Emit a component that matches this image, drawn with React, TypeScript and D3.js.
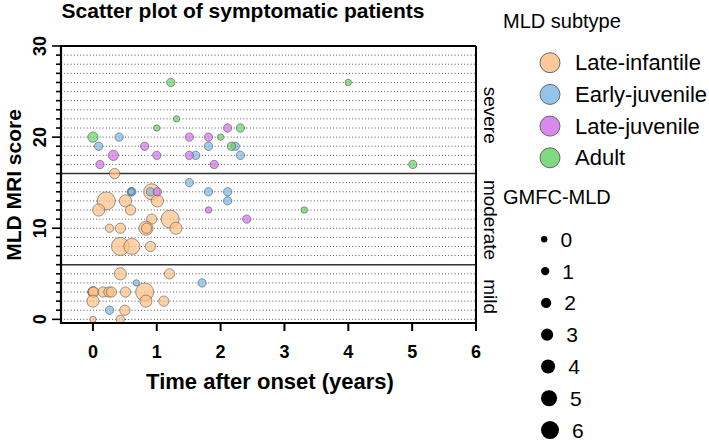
import React from "react";
import * as d3 from "d3";

// [time after onset, MRI score, GMFC-MLD]
const lateInfantile: number[][] = [
  [0.34, 16, 2],
  [0.92, 14, 5],
  [0.21, 13, 6], [0.51, 13, 3], [1.01, 13, 3],
  [0.09, 12, 3], [0.59, 12, 2],
  [0.92, 11, 2], [1.21, 11, 6],
  [0.26, 10, 1], [0.43, 10, 2], [0.83, 10, 4], [0.84, 10, 2], [1.3, 10, 3],
  [0.43, 8, 6], [0.61, 8, 5], [0.9, 8, 2],
  [0.43, 5, 3], [1.2, 5, 2],
  [0.0, 3, 2], [0.0, 3, 2], [0.01, 3, 2], [0.16, 3, 2], [0.25, 3, 2], [0.29, 3, 2], [0.51, 3, 2], [0.81, 3, 6],
  [0.0, 2, 3], [0.83, 2, 3], [1.11, 2, 2],
  [0.5, 1, 2],
  [0.0, 0, 0], [0.43, 0, 1],
];

const earlyJuvenile: number[][] = [
  [0.41, 20, 1],
  [0.09, 19, 1], [1.81, 19, 1], [2.23, 19, 1],
  [1.61, 18, 1], [2.31, 18, 1],
  [1.51, 15, 1],
  [0.6, 14, 1], [0.61, 14, 1], [0.6, 14, 0], [0.9, 14, 1], [1.81, 14, 1], [2.11, 14, 1],
  [2.11, 13, 1],
  [0.68, 4, 0], [1.71, 4, 1],
  [0.26, 1, 1],
];

const lateJuvenile: number[][] = [
  [2.11, 21, 1],
  [1.51, 20, 1], [1.81, 20, 1],
  [0.81, 19, 1],
  [0.32, 18, 2], [1.0, 18, 1], [1.51, 18, 1],
  [0.11, 17, 1], [1.9, 17, 1],
  [1.01, 14, 1],
  [1.81, 12, 0],
  [2.41, 11, 1],
];

const adult: number[][] = [
  [1.22, 26, 1], [4.0, 26, 0],
  [1.31, 22, 0],
  [1.0, 21, 0], [2.31, 21, 1],
  [0.0, 20, 2], [2.0, 20, 0],
  [2.17, 19, 1],
  [5.01, 17, 1],
  [3.31, 12, 0],
];

const subtypes = ["Late-infantile", "Early-juvenile", "Late-juvenile", "Adult"];
const colors = ["#FFC085", "#80BAE6", "#D274EA", "#68D468"];
const seriesList = [lateInfantile, earlyJuvenile, lateJuvenile, adult];
const gmfcLevels = [0, 1, 2, 3, 4, 5, 6];
const xTicks = [0, 1, 2, 3, 4, 5, 6];
const yLabels = [0, 10, 20, 30];
const bands = [
  { name: "severe", at: 22.4 },
  { name: "moderate", at: 10.9 },
  { name: "mild", at: 2.5 },
];
const bandLines = [6, 16];

export default function App() {
  const W = 709, H = 441;
  const left = 61, right = 476, top = 46, bottom = 323;
  const x = d3.scaleLinear().domain([-0.5, 6]).range([left, right]);
  const y = d3.scaleLinear().domain([-0.4, 30]).range([bottom, top]);
  const r = d3.scaleLinear().domain([0, 6]).range([3.2, 9]);
  const font = "'Liberation Sans', Arial, sans-serif";

  const gridVals = d3.range(0, 30).filter(v => !bandLines.includes(v));

  return (
    <svg width={W} height={H} style={{ position: "absolute", left: 0, top: 0, fontFamily: font }}>
      <rect width={W} height={H} fill="#fff" />
      <text x={243} y={18} textAnchor="middle" fontSize={21} fontWeight="bold">
        Scatter plot of symptomatic patients
      </text>

      {/* dotted grid */}
      {gridVals.map(v => (
        <line key={"g" + v} x1={left} x2={right} y1={y(v)} y2={y(v)}
          stroke="#555" strokeWidth={1} strokeDasharray="1,2.2" />
      ))}
      {bandLines.map(v => (
        <line key={"b" + v} x1={left} x2={right} y1={y(v)} y2={y(v)} stroke="#333" strokeWidth={1.5} />
      ))}

      {/* points */}
      {seriesList.map((s, i) => (
        <g key={subtypes[i]}>
          {s.map((d, j) => (
            <circle key={j} cx={x(d[0])} cy={y(d[1])} r={r(d[2])}
              fill={colors[i]} fillOpacity={0.72} stroke="#555" strokeOpacity={0.75} strokeWidth={0.8} />
          ))}
        </g>
      ))}

      {/* frame */}
      <line x1={left} x2={right} y1={top} y2={top} stroke="#000" strokeWidth={2.2} />
      <line x1={right} x2={right} y1={top} y2={bottom} stroke="#000" strokeWidth={2} />
      <line x1={left} x2={left} y1={top - 1} y2={bottom + 1} stroke="#000" strokeWidth={2.2} />
      <line x1={left - 1} x2={right + 1} y1={bottom} y2={bottom} stroke="#000" strokeWidth={2.2} />

      {/* y ticks */}
      {d3.range(0, 31).map(v => (
        <line key={"yt" + v} x1={v % 10 === 0 ? left - 9 : left - 5} x2={left} y1={y(v)} y2={y(v)}
          stroke="#000" strokeWidth={1.6} />
      ))}
      {yLabels.map(v => (
        <text key={"yl" + v} transform={`translate(46,${y(v)}) rotate(-90)`} textAnchor="middle"
          fontSize={18} fontWeight="bold">{v}</text>
      ))}
      <text transform={`translate(21,${185}) rotate(-90)`} textAnchor="middle" fontSize={21} fontWeight="bold">
        MLD MRI score
      </text>

      {/* x ticks */}
      {xTicks.map(v => (
        <g key={"xt" + v}>
          <line x1={x(v)} x2={x(v)} y1={bottom} y2={bottom + 8} stroke="#000" strokeWidth={2} />
          <text x={x(v)} y={358} textAnchor="middle" fontSize={18} fontWeight="bold">{v}</text>
        </g>
      ))}
      <text x={270} y={389} textAnchor="middle" fontSize={22} fontWeight="bold">
        Time after onset (years)
      </text>

      {/* band names */}
      {bands.map(b => (
        <text key={b.name} transform={`translate(484,${y(b.at)}) rotate(90)`} textAnchor="middle" fontSize={19}>
          {b.name}
        </text>
      ))}

      {/* legend: subtype */}
      <text x={503} y={28} fontSize={20}>MLD subtype</text>
      {subtypes.map((s, i) => (
        <g key={"l" + s} transform={`translate(550,${62.7 + i * 31.7})`}>
          <circle r={10} fill={colors[i]} fillOpacity={0.85} stroke="#666" strokeWidth={1} />
          <text x={25} y={7.5} fontSize={22}>{s}</text>
        </g>
      ))}

      {/* legend: GMFC */}
      <text x={503} y={204} fontSize={20}>GMFC-MLD</text>
      {gmfcLevels.map((g, i) => (
        <g key={"s" + g} transform={`translate(0,${239.3 + i * 31.8})`}>
          <circle cx={541 + r(g)} cy={0} r={r(g)} fill="#000" />
          <text x={541 + 2 * r(g) + 13} y={7.5} fontSize={21}>{g}</text>
        </g>
      ))}
    </svg>
  );
}
